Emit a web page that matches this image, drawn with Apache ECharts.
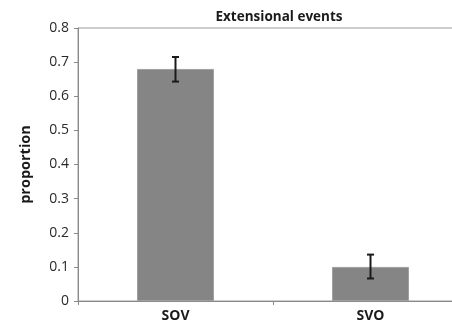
<!DOCTYPE html>
<html>
<head>
<meta charset="utf-8">
<script src="https://cdn.jsdelivr.net/npm/echarts@6/dist/echarts.min.js"></script>
<style>
  html, body {margin: 0; padding: 0; background: #fff;}
  #chart {width: 452px; height: 325px;}
</style>
</head>
<body>
<div id="chart"></div>
<script>
const categories = ['SOV', 'SVO'];
const proportion = [0.68, 0.10];
const errLow = [0.643, 0.066];
const errHigh = [0.715, 0.136];

const font = '"Open Sans", "DejaVu Sans", sans-serif';
const myChart = echarts.init(document.getElementById('chart'));

myChart.setOption({
  animation: false,
  title: {
    text: 'Extensional events',
    left: 274,
    textAlign: 'center',
    top: 5,
    textStyle: {fontFamily: font, fontSize: 13.5, fontWeight: 'bold', color: '#1a1a1a'}
  },
  grid: {
    left: 78,
    top: 28,
    width: 390,
    height: 273,
    outerBoundsMode: 'none',
    containLabel: false,
    show: true,
    borderColor: '#9a9a9a',
    borderWidth: 1
  },
  xAxis: {
    type: 'category',
    data: categories,
    axisLine: {lineStyle: {color: '#8a8a8a'}},
    axisTick: {show: true, length: 4, lineStyle: {color: '#8a8a8a'}},
    axisLabel: {
      margin: 8,
      fontFamily: font, fontSize: 14, fontWeight: 'bold', color: '#1a1a1a'
    }
  },
  yAxis: {
    type: 'value',
    min: 0,
    max: 0.8,
    interval: 0.1,
    name: 'proportion',
    nameLocation: 'middle',
    nameGap: 45,
    nameTextStyle: {fontFamily: font, fontSize: 14.5, fontWeight: 'bold', color: '#1a1a1a'},
    axisLine: {show: true, lineStyle: {color: '#8a8a8a'}},
    axisTick: {show: true, length: 4, lineStyle: {color: '#8a8a8a'}},
    splitLine: {show: false},
    axisLabel: {
      margin: 9,
      fontFamily: font, fontSize: 14, color: '#2a2a2a',
      formatter: v => v === 0 ? '0' : v.toFixed(1)
    }
  },
  series: [
    {
      type: 'bar',
      data: proportion,
      barWidth: 77,
      itemStyle: {color: '#858585', borderColor: '#a0a0a0', borderWidth: 1}
    },
    {
      type: 'custom',
      data: categories.map((c, i) => [i, errLow[i], errHigh[i]]),
      renderItem(params, api) {
        const lo = api.coord([api.value(0), api.value(1)]);
        const hi = api.coord([api.value(0), api.value(2)]);
        const x = lo[0], cap = 3.5;
        const style = {stroke: '#1a1a1a', lineWidth: 2};
        return {
          type: 'group',
          children: [
            {type: 'line', shape: {x1: x, y1: lo[1], x2: x, y2: hi[1]}, style},
            {type: 'line', shape: {x1: x - cap, y1: lo[1], x2: x + cap, y2: lo[1]}, style},
            {type: 'line', shape: {x1: x - cap, y1: hi[1], x2: x + cap, y2: hi[1]}, style}
          ]
        };
      },
      z: 10
    }
  ]
});
</script>
</body>
</html>
